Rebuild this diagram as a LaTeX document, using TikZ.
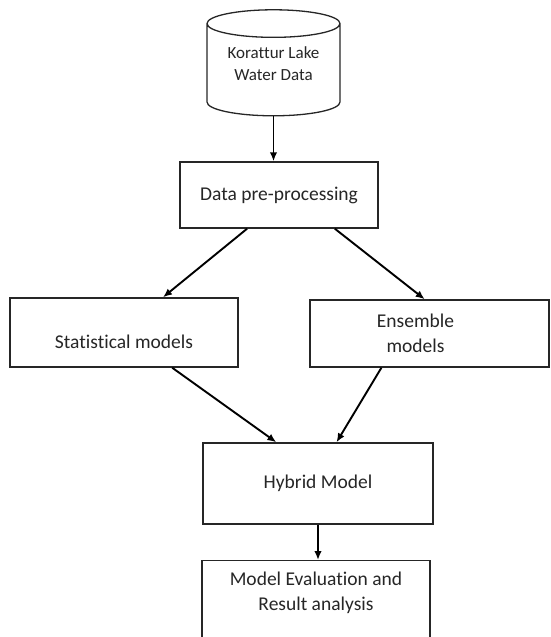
\documentclass[tikz,border=0pt]{standalone}
\usepackage{fontspec}
\setmainfont{Carlito}[Ligatures=NoCommon]
\usetikzlibrary{shapes.geometric,arrows.meta,calc}
\tikzstyle{annot}=[align=center, text=black!85, font=\fontsize{19.5}{25}\selectfont]
\tikzstyle{box}=[annot, rectangle, draw=black!85, line width=1.4pt, fill=white, inner sep=0pt, anchor=center]
\tikzstyle{store}=[cylinder, shape border rotate=90, aspect=0.30, draw=black!85, line width=1.3pt, inner sep=0pt, align=center, text=black!85, text depth=12pt, font=\fontsize{17}{22}\selectfont]
\tikzstyle{flow}=[line width=1.9pt, -{Latex[length=9pt,width=7.5pt]}]

\begin{document}
\begin{tikzpicture}[x=1pt, y=-1pt]
	\clip (0,0) rectangle (550,637);

	\node[store, minimum width=133pt, minimum height=106pt] (lake) at (273.5,70) {Korattur Lake\\Water Data};
	\node[box, minimum width=198pt, minimum height=66pt] (prep) at (279,195) {Data pre-processing};
	\node[box, minimum width=228pt, minimum height=69pt, label={[annot, yshift=-9pt]center:Statistical models}] (stat) at (124,332.5) {};
	\node[box, minimum width=239pt, minimum height=67pt, label={[annot, xshift=-14pt]center:{Ensemble\\models}}] (ens) at (429.5,333.5) {};
	\node[box, minimum width=230pt, minimum height=81pt] (hyb) at (318,483.5) {Hybrid Model};
	\node[box, anchor=north, minimum width=228pt, minimum height=110pt, label={[annot, anchor=north, yshift=-8pt]north:{Model Evaluation and\\Result analysis}}] (eval) at (316,560) {};

	% connectors
	\draw[flow] (lake.south) -- (lake.south |- prep.north);
	\draw[flow] ($(prep.south west)!0.34!(prep.south east)$) -- ($(stat.north west)!0.67!(stat.north east)$);
	\draw[flow] ($(prep.south west)!0.78!(prep.south east)$) -- ($(ens.north west)!0.48!(ens.north east)$);
	\draw[flow] ($(stat.south west)!0.71!(stat.south east)$) -- ($(hyb.north west)!0.32!(hyb.north east)$);
	\draw[flow] ($(ens.south west)!0.30!(ens.south east)$) -- ($(hyb.north west)!0.58!(hyb.north east)$);
	\draw[flow] (hyb.south) -- (hyb.south |- eval.north);
\end{tikzpicture}
\end{document}
